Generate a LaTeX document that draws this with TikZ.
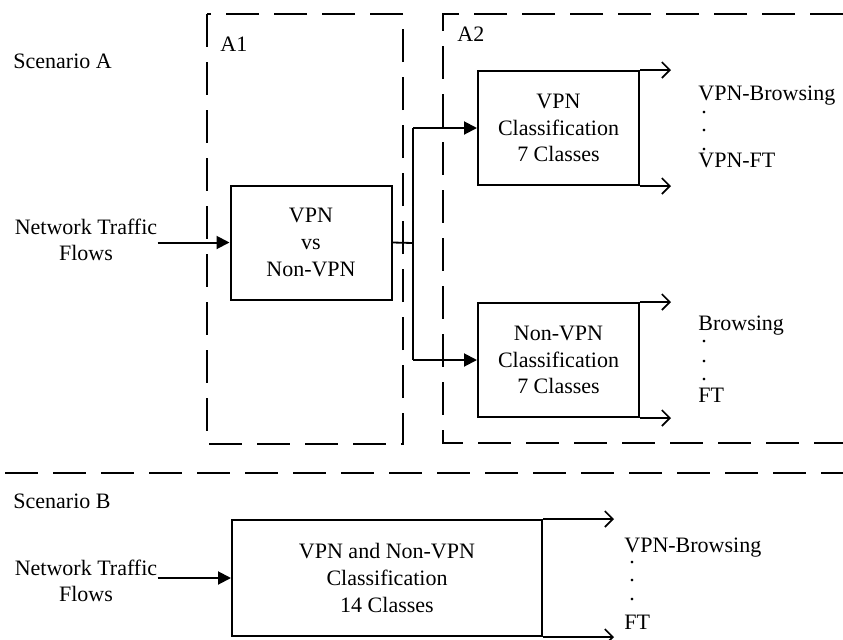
\documentclass[tikz,border=0pt]{standalone}
\usepackage{fontspec}
\setmainfont{Liberation Serif}
\usetikzlibrary{positioning,arrows.meta}
\tikzset{clsbox/.style={rectangle,draw,line width=1pt,align=center,inner sep=0pt,
	 minimum width=80.5pt,minimum height=57pt,font=\fontsize{11}{13.3}\selectfont},
	 grpline/.style={line width=0.9pt,dash pattern=on 16.5pt off 7.5pt},
	 inarrow/.style={line width=1pt,-{Triangle[length=6.5pt,width=6.5pt]}},
	 outarrow/.style={line width=0.8pt,-{Straight Barb[length=4pt,width=8pt]}},
	 txt/.style={inner sep=0pt,font=\fontsize{11}{13.3}\selectfont},
	 dotlabel/.style={txt,anchor=base}
	 }

\begin{document}
\begin{tikzpicture}[x=0.5pt,y=-0.5pt] % scenario A and scenario B
	\useasboundingbox (0,0) rectangle (843,639);
	\node[txt,anchor=base west] (scA) at (13,68) {Scenario A};
	\draw[grpline] (207,14) rectangle (403,444);
	\node[txt,anchor=base west] (gA1) at (220,51) {A1};
	\draw[grpline] (843,14) -- (443,14) -- (443,443) -- (843,443);
	\node[txt,anchor=base west] (gA2) at (457,41) {A2};
	\node[txt,align=center] (inA) at (86,240) {Network Traffic\\Flows};
	\node[clsbox] (vpnvs) at (311,242.5) {VPN\\vs\\Non-VPN};
	\node[clsbox] (vpncls) at (558.5,128) {VPN\\Classification\\7 Classes};
	\node[clsbox] (novpncls) [below=58pt of vpncls] {Non-VPN\\Classification\\7 Classes};
	\coordinate (split) at (413,243);
	\draw[inarrow] (inA.east |- vpnvs.west) -- (vpnvs.west);
	\draw[line width=0.9pt] (vpnvs.east) -- (split);
	\draw[line width=0.9pt] (split |- vpncls.west) -- (split |- novpncls.west);
	\draw[inarrow] (split |- vpncls.west) -- (vpncls.west);
	\draw[inarrow] (split |- novpncls.west) -- (novpncls.west);
	\foreach \b in {vpncls,novpncls}{
	  \draw[outarrow] (\b.north east) -- ++(31,0);
	  \draw[outarrow] (\b.south east) -- ++(31,0);
	}
	\node[txt,anchor=base west] (vpnbr) at (698,100) {VPN-Browsing};
	\foreach \y in {113.5,131.5,150.5} \node[dotlabel] (da\y) at (704,\y) {.};
	\node[txt,anchor=base west] (vpnft) at (698,167.5) {VPN-FT};
	\node[txt,anchor=base west] (br) at (698,330) {Browsing};
	\foreach \y in {342.5,362.5,380.5} \node[dotlabel] (db\y) at (704,\y) {.};
	\node[txt,anchor=base west] (ft) at (698,402.5) {FT};
	% scenario B
	\draw[grpline] (5,473) -- (843,473);
	\node[txt,anchor=base west] (scB) at (13,508) {Scenario B};
	\node[txt,align=center] (inB) at (86,581) {Network Traffic\\Flows};
	\node[clsbox,minimum width=155pt,minimum height=58pt] (allcls) at (387,578) {VPN and Non-VPN\\Classification\\14 Classes};
	\draw[inarrow] (inB.east |- allcls.west) -- (allcls.west);
	\draw[outarrow] (allcls.north east) -- ++(71,0);
	\draw[outarrow] (allcls.south east) -- ++(71,0);
	\node[txt,anchor=base west] (allbr) at (624,552) {VPN-Browsing};
	\foreach \y in {563.5,581.5,600.5} \node[dotlabel] (dc\y) at (632,\y) {.};
	\node[txt,anchor=base west] (allft) at (624,629.5) {FT};
\end{tikzpicture}
\end{document}
